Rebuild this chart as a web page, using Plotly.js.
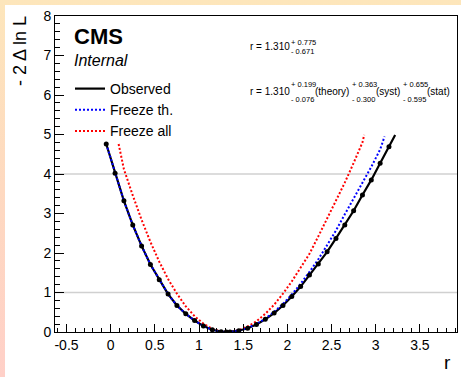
<!DOCTYPE html>
<html>
<head>
<meta charset="utf-8">
<script src="https://cdn.plot.ly/plotly-3.0.1.min.js"></script>
<style>
  html, body { margin:0; padding:0; }
  body { width:461px; height:377px; overflow:hidden; position:relative;
         background: linear-gradient(to bottom, #fde6bb 0%, #fed9c0 50%, #ffd0c8 100%); }
  #panel { position:absolute; left:5px; top:5px; width:456px; height:372px; background:#ffffff; }
  #chart { position:absolute; left:0; top:0; width:461px; height:377px; }
</style>
</head>
<body>
<div id="panel"></div>
<div id="chart"></div>
<script>
// ---- data ----
const obsX = [-0.05, 0.05, 0.15, 0.25, 0.35, 0.45, 0.55, 0.65, 0.75, 0.85, 0.95, 1.05, 1.15, 1.25, 1.31, 1.35, 1.45, 1.55, 1.65, 1.75, 1.85, 1.95, 2.05, 2.15, 2.25, 2.35, 2.45, 2.55, 2.65, 2.75, 2.85, 2.95, 3.05, 3.15, 3.22];
const obsY = [4.76, 4.02, 3.32, 2.71, 2.18, 1.71, 1.32, 0.96, 0.67, 0.46, 0.29, 0.15, 0.057, 0.008, 0.0, 0.003, 0.033, 0.096, 0.19, 0.32, 0.48, 0.67, 0.90, 1.15, 1.44, 1.72, 2.03, 2.37, 2.71, 3.07, 3.47, 3.85, 4.27, 4.69, 4.99];

const thX = [-0.05, 0.05, 0.15, 0.25, 0.35, 0.45, 0.55, 0.65, 0.75, 0.85, 0.95, 1.05, 1.15, 1.25, 1.31, 1.35, 1.45, 1.55, 1.65, 1.75, 1.85, 1.95, 2.05, 2.15, 2.25, 2.35, 2.45, 2.55, 2.65, 2.75, 2.85, 2.95, 3.05, 3.10];
const thY = [4.76, 4.02, 3.32, 2.71, 2.18, 1.71, 1.32, 0.96, 0.67, 0.46, 0.29, 0.15, 0.057, 0.008, 0.0, 0.003, 0.035, 0.10, 0.20, 0.34, 0.51, 0.71, 0.95, 1.22, 1.52, 1.84, 2.20, 2.57, 2.98, 3.38, 3.78, 4.18, 4.62, 4.95];

const allX = [0.09, 0.15, 0.25, 0.35, 0.45, 0.55, 0.65, 0.75, 0.85, 0.95, 1.05, 1.15, 1.25, 1.31, 1.35, 1.45, 1.55, 1.65, 1.75, 1.85, 1.95, 2.05, 2.15, 2.25, 2.35, 2.45, 2.55, 2.65, 2.75, 2.85, 2.87];
const allY = [4.76, 4.12, 3.46, 2.84, 2.28, 1.78, 1.34, 0.97, 0.65, 0.40, 0.21, 0.08, 0.01, 0.0, 0.004, 0.045, 0.14, 0.27, 0.46, 0.69, 0.97, 1.28, 1.62, 1.98, 2.42, 2.86, 3.32, 3.78, 4.28, 4.80, 4.99];

const seriesNames = ["Observed", "Freeze th.", "Freeze all"];
const xTickVals = [-0.5, 0, 0.5, 1, 1.5, 2, 2.5, 3, 3.5];
const xTickText = ["-0.5", "0", "0.5", "1", "1.5", "2", "2.5", "3", "3.5"];
const yTickVals = [0, 1, 2, 3, 4, 5, 6, 7, 8];
const gridLevels = [1, 4];
const resultLine1 = {main: "r = 1.310", up: "+ 0.775", down: "- 0.671"};
const resultLine2 = [
  {up: "+ 0.199", down: "- 0.076", label: "(theory)"},
  {up: "+ 0.363", down: "- 0.300", label: "(syst)"},
  {up: "+ 0.655", down: "- 0.595", label: "(stat)"}
];

// ---- geometry helpers ----
const M = {l:55, r:4, t:16, b:45};
const PW = 461 - M.l - M.r, PH = 377 - M.t - M.b;
const px = x => (x - M.l) / PW;
const py = y => 1 - (y - M.t) / PH;
const FONT = "Liberation Sans, Arial, Helvetica, sans-serif";

const traces = [
  {x: allX, y: allY, mode: "lines", name: seriesNames[2], legendrank: 3,
   line: {color: "#ff0000", width: 2, dash: "2px,2px"}},
  {x: obsX, y: obsY, mode: "lines", name: seriesNames[0], legendrank: 1,
   line: {color: "#000000", width: 2.2}},
  {x: thX, y: thY, mode: "lines", name: seriesNames[1], legendrank: 2,
   line: {color: "#0000ff", width: 2, dash: "2px,2px"}},
  {x: obsX.slice(0, -1), y: obsY.slice(0, -1), mode: "markers", showlegend: false,
   marker: {color: "#000000", size: 5}}
];

const ann = [];
function txt(text, x, y, size, opts) {
  ann.push(Object.assign({text: text, xref: "paper", yref: "paper", x: px(x), y: py(y),
    xanchor: "left", yanchor: "middle", showarrow: false,
    font: {family: FONT, size: size, color: "#000"}}, opts || {}));
}
txt("<b>CMS</b>", 72, 36, 22);
txt("<i>Internal</i>", 72, 61, 16);
txt("- 2 Δ ln L", 20, 14, 18, {textangle: -90, xanchor: "center", yanchor: "top"});
txt("r", 442, 362, 19);

// result line 1
txt(resultLine1.main, 248, 47, 10);
txt(resultLine1.up, 289, 42, 7.5);
txt(resultLine1.down, 289, 52, 7.5);
// result line 2
txt(resultLine1.main, 248, 92, 10);
const xs = [[289, 313], [350, 374], [401, 425]];
resultLine2.forEach((p, i) => {
  txt(p.up, xs[i][0], 84, 7.5);
  txt(p.down, xs[i][0], 100, 7.5);
  txt(p.label, xs[i][1], 92, 10);
});

const shapes = gridLevels.map(v => ({type: "line", xref: "paper", x0: 0, x1: 1, yref: "y", y0: v, y1: v,
  line: {color: "#d0d0d0", width: 1.5}, layer: "below"}));

const axisCommon = {showline: true, linecolor: "#000", linewidth: 1, mirror: true, showgrid: false,
  zeroline: false, ticks: "inside", tickcolor: "#000", tickfont: {family: FONT, size: 14, color: "#000"}};

const layout = {
  width: 461, height: 377,
  margin: M,
  paper_bgcolor: "rgba(0,0,0,0)", plot_bgcolor: "rgba(0,0,0,0)",
  font: {family: FONT, color: "#000"},
  xaxis: Object.assign({}, axisCommon, {range: [-0.63, 3.92], tickmode: "array", tickvals: xTickVals,
    ticktext: xTickText, ticklen: 8,
    minor: {ticks: "inside", dtick: 0.1, tick0: 0, ticklen: 4, tickcolor: "#000", showgrid: false}}),
  yaxis: Object.assign({}, axisCommon, {range: [0, 8], tickmode: "array", tickvals: yTickVals, ticklen: 9,
    minor: {ticks: "inside", dtick: 0.2, tick0: 0, ticklen: 5, tickcolor: "#000", showgrid: false}}),
  showlegend: true,
  legend: {x: px(70), y: py(73), xanchor: "left", yanchor: "top", bgcolor: "rgba(0,0,0,0)",
    font: {family: FONT, size: 14, color: "#000"}, itemwidth: 30, tracegroupgap: 0, traceorder: "normal"},
  annotations: ann,
  shapes: shapes
};

Plotly.newPlot("chart", traces, layout, {staticPlot: true, displayModeBar: false});
</script>
</body>
</html>
